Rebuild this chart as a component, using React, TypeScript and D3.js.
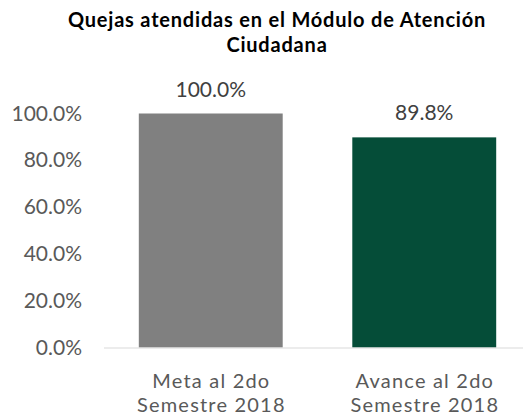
import { useEffect, useRef } from 'react'
import * as d3 from 'd3'

const categories = [['Meta al 2do', 'Semestre 2018'], ['Avance al 2do', 'Semestre 2018']]
const values = [100.0, 89.8]
const barColors = ['#808080', '#054D38']
const yTicks = [0, 20, 40, 60, 80, 100]
const titleLines = ['Quejas atendidas en el Módulo de Atención', 'Ciudadana']

const W = 523
const H = 417
const FONT = 'Lato, Calibri, sans-serif'

export default function App() {
  const ref = useRef<SVGSVGElement>(null)

  useEffect(() => {
    if (!ref.current) return
    const svg = d3.select(ref.current)
    svg.selectAll('*').remove()

    const margin = { left: 104, right: -8 }
    const y = d3.scaleLinear().domain([0, 100]).range([347.5, 113.5])
    const x = d3
      .scaleBand()
      .domain(categories.map((c) => c.join(' ')))
      .range([margin.left, W - margin.right])
      .paddingInner(0.326)
      .paddingOuter(0.163)

    // title
    svg.append('text')
      .attr('text-anchor', 'middle')
      .attr('font-family', FONT)
      .attr('font-weight', 700)
      .attr('font-size', '20px')
      .attr('letter-spacing', '0.8px')
      .attr('fill', '#000')
      .selectAll('tspan')
      .data(titleLines)
      .join('tspan')
      .attr('x', 277)
      .attr('y', (d, i) => 27 + i * 25)
      .text((d) => d)

    // y tick labels
    svg.append('g')
      .selectAll('text')
      .data(yTicks)
      .join('text')
      .attr('x', 82)
      .attr('y', (d) => y(d) + 7)
      .attr('text-anchor', 'end')
      .attr('font-family', FONT)
      .attr('font-size', '21px')
      .attr('fill', '#595959')
      .text((d) => d.toFixed(1) + '%')

    // bars
    categories.forEach((c, i) => {
      const key = c.join(' ')
      svg.append('rect')
        .attr('x', x(key)!)
        .attr('y', y(values[i]))
        .attr('width', x.bandwidth())
        .attr('height', y(0) - y(values[i]))
        .attr('fill', barColors[i])

      svg.append('text')
        .attr('x', x(key)! + x.bandwidth() / 2)
        .attr('y', y(values[i]) - 17)
        .attr('text-anchor', 'middle')
        .attr('font-family', FONT)
        .attr('font-size', '21px')
        .attr('fill', '#404040')
        .text(values[i].toFixed(1) + '%')

      svg.append('text')
        .attr('text-anchor', 'middle')
        .attr('font-family', FONT)
        .attr('font-size', '20px')
        .attr('letter-spacing', '1.2px')
        .attr('fill', '#595959')
        .selectAll('tspan')
        .data(c)
        .join('tspan')
        .attr('x', x(key)! + x.bandwidth() / 2 + 0.6)
        .attr('y', (d, j) => 388 + j * 24)
        .text((d) => d)
    })

    // baseline
    svg.append('line')
      .attr('x1', margin.left)
      .attr('x2', W)
      .attr('y1', y(0) + 0.5)
      .attr('y2', y(0) + 0.5)
      .attr('stroke', '#d9d9d9')
      .attr('stroke-width', 1)
  }, [])

  return (
    <svg
      ref={ref}
      width={W}
      height={H}
      style={{ position: 'fixed', left: 0, top: 0, background: '#fff' }}
    />
  )
}
